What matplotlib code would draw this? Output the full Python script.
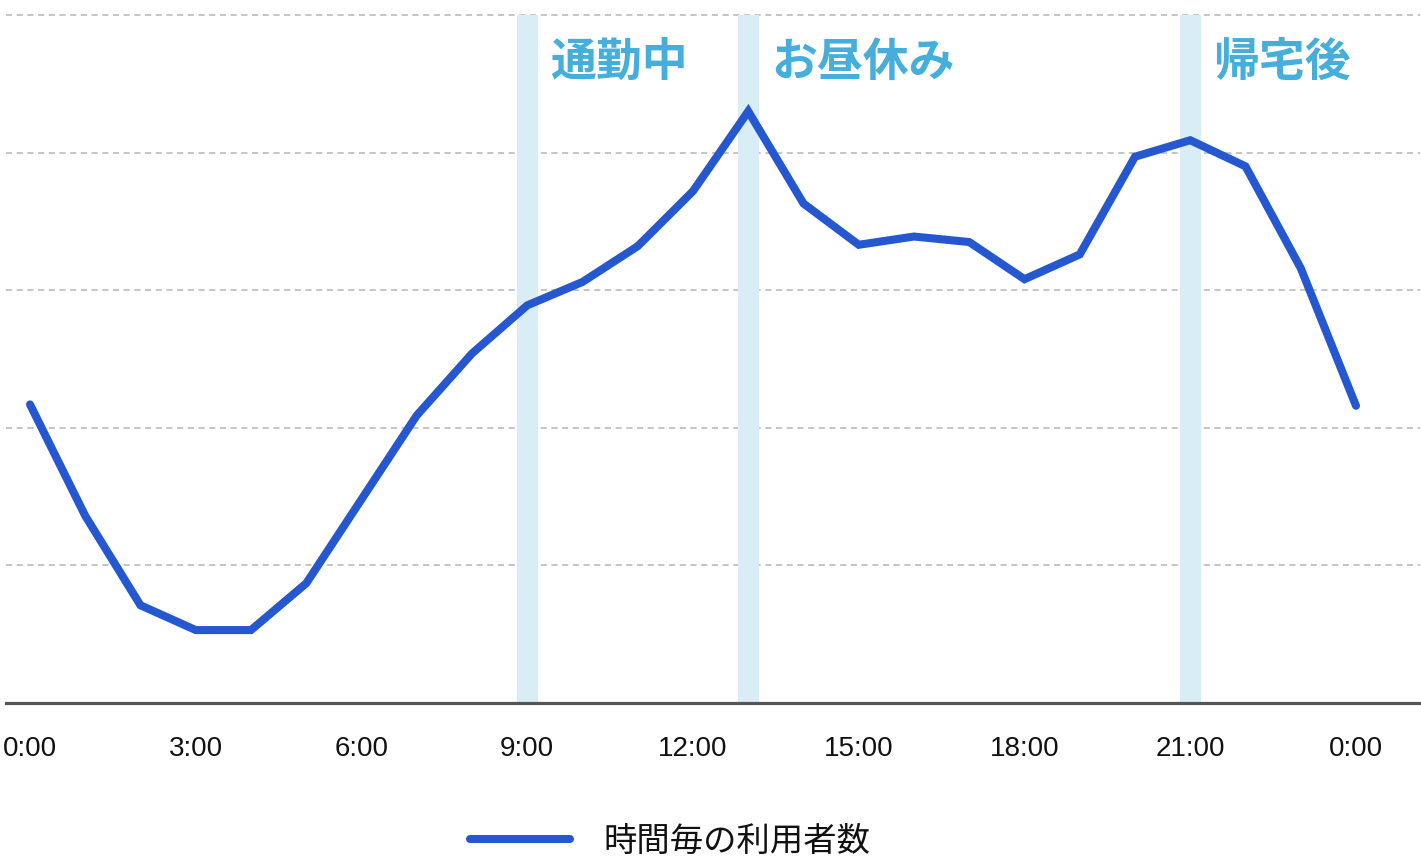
import matplotlib
matplotlib.use("Agg")
import matplotlib.pyplot as plt
from matplotlib.lines import Line2D

plt.rcParams['font.family'] = ['Noto Sans CJK JP', 'DejaVu Sans']

# hourly users (relative units)
hours = list(range(25))
users = [2.17, 1.36, 0.71, 0.53, 0.53, 0.87, 1.48, 2.09, 2.54, 2.89,
         3.06, 3.32, 3.72, 4.30, 3.63, 3.33, 3.39, 3.35, 3.08, 3.26,
         3.97, 4.09, 3.90, 3.16, 2.16]

tick_hours = [0, 3, 6, 9, 12, 15, 18, 21, 24]
tick_labels = ['0:00', '3:00', '6:00', '9:00', '12:00', '15:00', '18:00', '21:00', '0:00']

# highlighted moments and their captions
event_hours = [9, 13, 21]
event_labels = ['通勤中', 'お昼休み', '帰宅後']

legend_label = '時間毎の利用者数'

line_color = '#2557d1'
band_color = '#d9edf7'
caption_color = '#45aedb'

fig = plt.figure(figsize=(14.21, 8.6), dpi=100)
ax = fig.add_axes([6 / 1421, 1 - 703 / 860, 1414 / 1421, 688 / 860])

ax.set_xlim(-24 / 55.25, 1390 / 55.25)
ax.set_ylim(0, 5)

# dashed grid lines
for g in [1, 2, 3, 4, 5]:
    ax.axhline(g, color='#b5b5b5', linewidth=1.1, linestyle=(0, (4, 3)),
               zorder=0, clip_on=False)

# highlight bands + captions
for h, lab in zip(event_hours, event_labels):
    ax.axvspan(h - 0.19, h + 0.19, color=band_color, linewidth=0, zorder=1)
    ax.text(h + 0.42, 4.65, lab, color=caption_color, fontsize=33,
            fontweight='bold', ha='left', va='center', zorder=2)

ax.plot(hours, users, color=line_color, linewidth=5.8,
        solid_joinstyle='miter', solid_capstyle='round', zorder=3)

# baseline
ax.axhline(0, color='#555555', linewidth=2.3, zorder=4, clip_on=False)

for side in ['top', 'right', 'left', 'bottom']:
    ax.spines[side].set_visible(False)
ax.set_yticks([])
ax.set_xticks(tick_hours)
ax.set_xticklabels(tick_labels, family=['Liberation Sans', 'DejaVu Sans'])
ax.tick_params(axis='x', length=0, pad=24, labelsize=20, labelcolor='#111111')

handle = Line2D([0], [0], color=line_color, linewidth=5.8,
                solid_capstyle='round', label=legend_label)
fig.legend(handles=[handle], loc='center', bbox_to_anchor=(670 / 1421, 1 - 841 / 860),
           frameon=False, fontsize=24, handlelength=3.0, handletextpad=1.0,
           borderpad=0.1, labelcolor='#111111')

fig.savefig('out.png', dpi=100)
